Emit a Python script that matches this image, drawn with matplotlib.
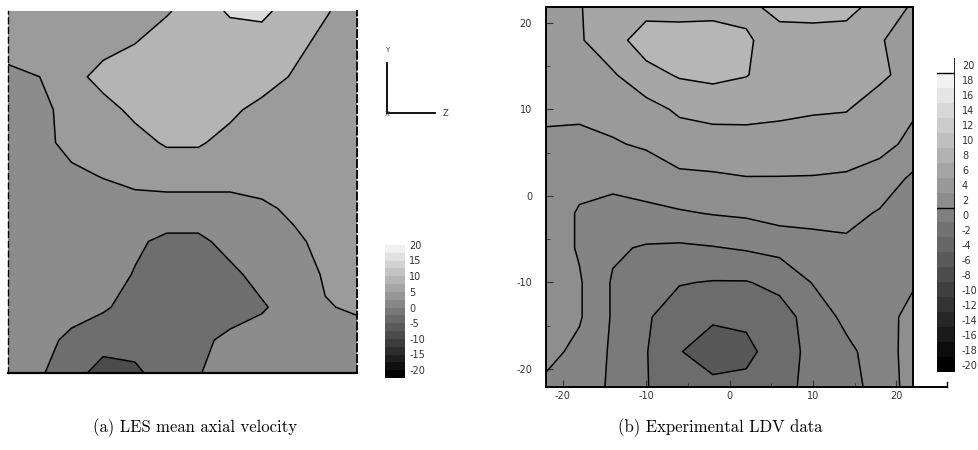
import numpy as np
import matplotlib
matplotlib.use("Agg")
import matplotlib.pyplot as plt
from matplotlib.colors import BoundaryNorm
from matplotlib.lines import Line2D
import matplotlib.cm as cm

plt.rcParams['contour.negative_linestyle'] = 'solid'
plt.rcParams['axes.unicode_minus'] = False

# ---------------- data ----------------
# (a) LES mean axial velocity: normalised grid (u: left->right, v: bottom->top)
les_u = np.linspace(0, 1, 12)
les_v = np.linspace(1, 0, 12)   # rows listed top -> bottom
les_z = [
    [2.0, 2.0, 2.0, 2.0, 2.1, 2.4, 3.0, 3.25, 3.3, 3.0, 2.6, 2.0],
    [2.0, 2.0, 2.0, 2.2, 2.5, 3.0, 3.0, 3.0, 3.0, 2.8, 2.2, 2.0],
    [1.2, 1.5, 2.2, 2.8, 3.0, 3.0, 3.0, 3.0, 3.0, 2.4, 2.0, 2.0],
    [1.0, 1.2, 1.9, 2.2, 2.7, 3.0, 3.0, 2.7, 2.2, 2.0, 2.0, 2.0],
    [1.0, 1.2, 1.8, 2.0, 2.2, 2.6, 2.6, 2.2, 2.0, 2.0, 2.0, 2.0],
    [1.0, 1.0, 1.3, 1.55, 1.8, 1.9, 1.9, 1.9, 2.0, 2.0, 2.0, 2.0],
    [1.0, 1.0, 1.0, 1.0, 1.1, 1.1, 1.1, 1.1, 1.3, 1.7, 2.0, 2.0],
    [1.0, 1.0, 1.0, 1.0, 0.65, 0.3, 0.3, 0.8, 1.0, 1.3, 1.8, 2.0],
    [1.0, 1.0, 1.0, 0.9, 0.45, 0.0, 0.0, 0.3, 0.8, 1.0, 1.6, 2.0],
    [1.0, 1.0, 0.85, 0.6, 0.2, 0.0, 0.0, 0.1, 0.4, 0.9, 1.45, 1.6],
    [1.0, 0.8, 0.3, 0.0, 0.0, 0.0, 0.3, 0.7, 0.9, 1.0, 1.0, 1.2],
    [1.0, 0.6, 0.0, -0.8, -0.6, 0.1, 0.45, 0.9, 1.0, 1.0, 1.0, 1.0],
]
les_levels = [-5, -0.4, 0.5, 1.5, 2.5, 3.2, 5]
les_colors = ['#4c4c4c', '#6e6e6e', '#8c8c8c', '#9b9b9b', '#b4b4b4', '#dcdcdc']
les_cbar_ticks = [20, 15, 10, 5, 0, -5, -10, -15, -20]

# (b) Experimental LDV data
ldv_x = [-22, -18, -14, -10, -6, -2, 2, 6, 10, 14, 18, 22]
ldv_y = [22, 18, 14, 10, 6, 2, -2, -6, -10, -14, -18, -22]
ldv_z = [
    [5.5, 5.9, 7.0, 7.2, 7.2, 7.0, 7.6, 8.6, 8.8, 8.7, 7.3, 5.8],
    [5.3, 5.8, 7.2, 9.0, 8.9, 9.3, 8.2, 7.3, 7.2, 7.1, 6.1, 5.4],
    [5.0, 5.3, 5.8, 7.3, 8.2, 8.5, 8.1, 6.9, 6.8, 6.7, 6.4, 5.2],
    [4.3, 4.3, 4.8, 5.3, 6.3, 6.6, 6.4, 6.3, 6.2, 6.1, 5.0, 4.2],
    [3.7, 3.6, 3.8, 4.3, 5.0, 5.2, 5.5, 5.4, 5.0, 4.8, 4.5, 3.6],
    [3.3, 2.6, 2.4, 2.6, 3.6, 3.7, 3.9, 3.9, 3.9, 3.8, 3.3, 1.6],
    [3.2, 1.8, 1.5, 1.7, 1.8, 2.1, 2.3, 2.8, 2.6, 2.7, 1.8, 1.3],
    [3.2, 1.8, 0.3, -0.2, -0.3, -0.1, 0.2, 0.6, 1.3, 1.5, 1.6, 1.4],
    [3.1, 2.2, -0.2, -1.0, -1.9, -2.1, -2.1, -1.5, 0.1, 1.0, 1.5, 1.8],
    [3.0, 2.2, -0.2, -1.8, -2.9, -3.7, -3.6, -2.8, -1.2, 0.5, 1.2, 2.6],
    [2.6, 1.5, -0.3, -1.9, -3.9, -5.0, -4.5, -3.0, -1.4, -0.5, 1.0, 2.8],
    [1.6, 1.0, -0.3, -1.9, -3.2, -3.5, -3.5, -2.8, -1.3, -0.8, 0.8, 2.8],
]
ldv_levels = [-10, -4, -2, 0, 2, 4, 6, 8, 12]
ldv_colors = ['#585858', '#6c6c6c', '#7a7a7a', '#848484', '#8e8e8e',
              '#9a9a9a', '#a6a6a6', '#b6b6b6']
ldv_ticks = [-20, -10, 0, 10, 20]
ldv_cbar_ticks = list(range(20, -21, -2))

captions = ['(a) LES mean axial velocity', '(b) Experimental LDV data']

# ---------------- figure ----------------
W, H = 979, 450
fig = plt.figure(figsize=(W / 100, H / 100), dpi=100)


def fx(px):
    return px / W


def fy(py):
    return 1 - py / H


# ---- (a) ----
axa = fig.add_axes([fx(8), fy(373), fx(357) - fx(8), fy(11) - fy(373)])
U, V = np.meshgrid(les_u, les_v)
Za = np.array(les_z)
axa.contourf(U, V, Za, levels=les_levels, colors=les_colors)
axa.contour(U, V, Za, levels=les_levels[1:-1], colors='black', linewidths=1.1,
            linestyles='solid')
axa.set_xlim(0, 1)
axa.set_ylim(0, 1)
axa.set_xticks([])
axa.set_yticks([])
axa.spines['top'].set_visible(False)
axa.spines['right'].set_linestyle((0, (4, 2)))
axa.spines['right'].set_linewidth(1.3)
axa.spines['left'].set_linestyle((0, (4, 3)))
axa.spines['left'].set_linewidth(1.0)
axa.spines['bottom'].set_linewidth(1.6)

# colorbar (a)
caxa = fig.add_axes([fx(385), fy(378), fx(405) - fx(385), fy(237) - fy(378)])
bounds_a = np.arange(-22.5, 22.6, 2.5)
norm_a = BoundaryNorm(bounds_a, 256)
cba = fig.colorbar(cm.ScalarMappable(norm=norm_a, cmap='gray'), cax=caxa,
                   ticks=les_cbar_ticks)
cba.outline.set_visible(False)
cba.minorticks_off()
caxa.tick_params(which='both', length=0, labelsize=7, pad=3, colors='#333333')
caxa.set_yticklabels([str(t) for t in les_cbar_ticks])

# axis glyph
fig.add_artist(Line2D([fx(387), fx(387)], [fy(63), fy(113)], color='black', lw=1.3))
fig.add_artist(Line2D([fx(387), fx(435)], [fy(113), fy(113)], color='black', lw=1.3))
fig.text(fx(387), fy(50), 'Y', fontsize=5, ha='center', va='center', color='#333')
fig.text(fx(446), fy(113), 'Z', fontsize=6, ha='center', va='center', color='#333')
fig.text(fx(387), fy(114), 'X', fontsize=5, ha='center', va='center', color='#333')

# ---- (b) ----
axb = fig.add_axes([fx(546), fy(387), fx(913) - fx(546), fy(7) - fy(387)])
X, Y = np.meshgrid(ldv_x, ldv_y)
Zb = np.array(ldv_z)
axb.contourf(X, Y, Zb, levels=ldv_levels, colors=ldv_colors)
axb.contour(X, Y, Zb, levels=ldv_levels[1:-1], colors='black', linewidths=1.1,
            linestyles='solid')
axb.set_xlim(-22, 22)
axb.set_ylim(-22.1, 21.85)
axb.set_xticks(ldv_ticks)
axb.set_yticks(ldv_ticks)
axb.set_xticks([-15, -5, 5, 15], minor=True)
axb.set_yticks([-15, -5, 5, 15], minor=True)
axb.tick_params(which='both', direction='in', labelsize=7, colors='#333333')
axb.tick_params(which='major', length=5)
axb.tick_params(which='minor', length=3)
axb.tick_params(axis='y', pad=10)
axb.tick_params(axis='x', pad=3)
for s in axb.spines.values():
    s.set_linewidth(1.4)
fig.add_artist(Line2D([fx(913), fx(947)], [fy(387), fy(387)], color='black', lw=1.4))
fig.add_artist(Line2D([fx(947), fx(947)], [fy(387), fy(382)], color='black', lw=1.0))

# colorbar (b)
caxb = fig.add_axes([fx(937), fy(372), fx(955) - fx(937), fy(58) - fy(372)])
bounds_b = np.arange(-21, 21.1, 2)
norm_b = BoundaryNorm(bounds_b, 256)
cbb = fig.colorbar(cm.ScalarMappable(norm=norm_b, cmap='gray'), cax=caxb,
                   ticks=ldv_cbar_ticks)
cbb.outline.set_visible(False)
cbb.minorticks_off()
caxb.tick_params(which='both', length=0, labelsize=7, pad=5, colors='#333333')
caxb.set_yticklabels([str(t) for t in ldv_cbar_ticks])
caxb.axvline(1.0, color='black', lw=1.2)
caxb.axhline(19, color='black', lw=1.0)
caxb.axhline(1, color='black', lw=1.0)

# captions
fig.text(fx(195), fy(428), captions[0], fontfamily='cmr10', fontsize=12,
         ha='center', va='center')
fig.text(fx(720), fy(428), captions[1], fontfamily='cmr10', fontsize=12,
         ha='center', va='center')

fig.savefig('out.png', dpi=100)
